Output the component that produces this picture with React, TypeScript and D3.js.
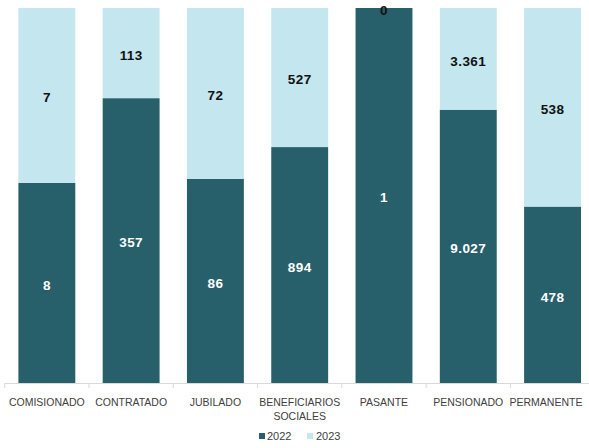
import React from "react";
import * as d3 from "d3";

const categories = ["COMISIONADO", "CONTRATADO", "JUBILADO", "BENEFICIARIOS SOCIALES", "PASANTE", "PENSIONADO", "PERMANENTE"];
const categoryLines = [["COMISIONADO"], ["CONTRATADO"], ["JUBILADO"], ["BENEFICIARIOS", "SOCIALES"], ["PASANTE"], ["PENSIONADO"], ["PERMANENTE"]];
const values2022 = [8, 357, 86, 894, 1, 9027, 478];
const values2023 = [7, 113, 72, 527, 0, 3361, 538];
const seriesNames = ["2022", "2023"];

const W = 589, H = 448;
const colors = ["#275F6B", "#C3E6EF"];
const fmt = (v: number) => d3.format(",")(v).replace(/,/g, ".");

export default function App() {
  const x = d3.scaleBand().domain(categories).range([4.7, 594.7]).paddingInner(0.325).paddingOuter(0.1625);
  const y = d3.scaleLinear().domain([0, 1]).range([383, 8]);
  const rows = categories.map((c, i) => ({ c, a: values2022[i], b: values2023[i], t: values2022[i] + values2023[i] }));
  const step = x.step();
  const ticks = d3.range(categories.length + 1).map((i) => 4.7 + i * step);
  const labelX = (c: string, i: number) => {
    const cx = x(c)! + x.bandwidth() / 2;
    return i === categories.length - 1 ? Math.min(cx, 546) : cx;
  };
  return (
    <svg width={W} height={H} style={{ position: "absolute", left: 0, top: 0, fontFamily: "Liberation Sans, Arial, sans-serif" }}>
      {rows.map((r, i) => {
        const x0 = x(r.c)!;
        const bw = x.bandwidth();
        const p = r.a / r.t;
        const yA = y(p);
        return (
          <g key={r.c}>
            <rect x={x0} y={yA} width={bw} height={y(0) - yA} fill={colors[0]} />
            <rect x={x0} y={y(1)} width={bw} height={yA - y(1)} fill={colors[1]} />
            <text x={x0 + bw / 2} y={(yA + y(0)) / 2 + 2} dy="0.36em" textAnchor="middle" fill="#fff" fontWeight="bold" fontSize={13.5} letterSpacing={0.4}>{fmt(r.a)}</text>
            <text x={x0 + bw / 2} y={(yA + y(1)) / 2 + 2} dy="0.36em" textAnchor="middle" fill="#111" fontWeight="bold" fontSize={13.5} letterSpacing={0.4}>{fmt(r.b)}</text>
          </g>
        );
      })}
      <line x1={4.7} x2={594.7} y1={383.5} y2={383.5} stroke="#d9d9d9" />
      {ticks.map((t, i) => (
        <line key={i} x1={t} x2={t} y1={383.5} y2={388} stroke="#d9d9d9" />
      ))}
      {categories.map((c, i) => (
        <text key={c} x={labelX(c, i)} y={406} textAnchor="middle" fill="#404040" fontSize={10.5}>
          {categoryLines[i].map((l, j) => (
            <tspan key={j} x={labelX(c, i)} dy={j === 0 ? 0 : 14}>{l}</tspan>
          ))}
        </text>
      ))}
      <g>
        <rect x={259} y={433} width={6} height={6} fill={colors[0]} />
        <text x={267} y={440} fill="#404040" fontSize={11}>{seriesNames[0]}</text>
        <rect x={307} y={433} width={6} height={6} fill={colors[1]} />
        <text x={316} y={440} fill="#404040" fontSize={11}>{seriesNames[1]}</text>
      </g>
    </svg>
  );
}
